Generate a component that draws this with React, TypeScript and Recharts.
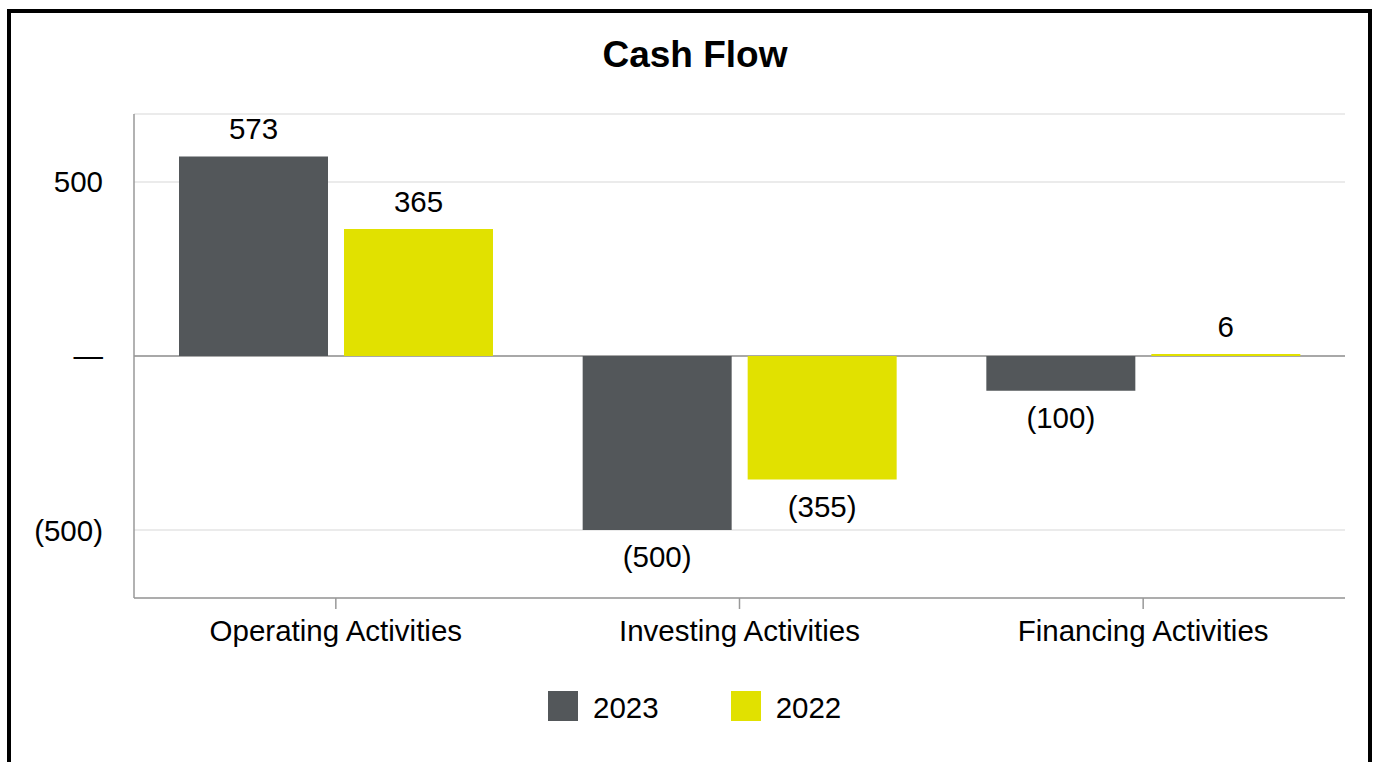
import { BarChart, Bar, XAxis, YAxis, CartesianGrid, LabelList } from 'recharts'

const categories = ['Operating Activities', 'Investing Activities', 'Financing Activities']
const cf2023 = [573, -500, -100]
const cf2022 = [365, -355, 6]
const yTicks = [-500, 0, 500]

const DARK = '#53575A'
const YELLOW = '#E1E100'
const FONT = '"Liberation Sans", Arial, sans-serif'

const data = categories.map((name, i) => ({ name, y2023: cf2023[i], y2022: cf2022[i] }))

const fmt = (v: number) => (v === 0 ? '—' : v < 0 ? `(${Math.abs(v)})` : String(v))

function BarValue(props: any) {
    const vb = props.viewBox ?? props
    const { x, y, width, height } = vb
    const v = Number(props.value)
    const top = Math.min(y, y + height)
    const bottom = Math.max(y, y + height)
    const ty = v < 0 ? bottom + 37 : top - 17
    return (
        <text x={x + width / 2} y={ty} textAnchor="middle" fill="#000" fontSize={29.5} fontFamily={FONT}>
            {v < 0 ? `(${Math.abs(v)})` : String(v)}
        </text>
    )
}

function GridLine(props: any) {
    const { x1, x2, y1, y2, index } = props
    const zero = index === 1
    return (
        <line
            key={`grid-${index}`}
            x1={x1}
            x2={x2}
            y1={y1}
            y2={y2}
            stroke={zero ? '#a8a8a8' : '#e4e4e4'}
            strokeWidth={zero ? 2 : 1.5}
        />
    )
}

const legendItems = [
    { label: '2023', color: DARK },
    { label: '2022', color: YELLOW },
]

export default function App() {
    return (
        <div
            style={{
                position: 'fixed',
                left: 7,
                top: 9,
                width: 1365,
                height: 800,
                border: '4px solid #000',
                boxSizing: 'border-box',
                background: '#fff',
                fontFamily: FONT,
            }}
        >
            <div
                style={{
                    position: 'absolute',
                    left: 0,
                    top: 23,
                    width: 1368,
                    textAlign: 'center',
                    fontSize: 37,
                    lineHeight: '37px',
                    fontWeight: 700,
                    color: '#000',
                }}
            >
                Cash Flow
            </div>

            <div style={{ position: 'absolute', left: 0, top: 0 }}>
                <BarChart
                    width={1357}
                    height={760}
                    data={data}
                    margin={{ top: 101, right: 23, left: 0, bottom: 115 }}
                    barCategoryGap={45}
                    barGap={16}
                >
                    <CartesianGrid vertical={false} horizontal={GridLine} />
                    <XAxis
                        dataKey="name"
                        height={60}
                        axisLine={{ stroke: '#999', strokeWidth: 1.5 }}
                        tickLine={{ stroke: '#999', strokeWidth: 1.5 }}
                        tickSize={11}
                        tickMargin={11}
                        tick={{ fill: '#000', fontSize: 29.5, fontFamily: FONT }}
                    />
                    <YAxis
                        width={123}
                        domain={[-695, 695]}
                        ticks={yTicks}
                        tickFormatter={fmt}
                        axisLine={{ stroke: '#999', strokeWidth: 1.5 }}
                        tickLine={false}
                        tickSize={0}
                        tickMargin={31}
                        tick={{ fill: '#000', fontSize: 29.5, fontFamily: FONT }}
                    />
                    <Bar dataKey="y2023" fill={DARK} isAnimationActive={false}>
                        <LabelList dataKey="y2023" content={BarValue} />
                    </Bar>
                    <Bar dataKey="y2022" fill={YELLOW} isAnimationActive={false}>
                        <LabelList dataKey="y2022" content={BarValue} />
                    </Bar>
                </BarChart>
            </div>

            <div style={{ position: 'absolute', left: 537, top: 678, display: 'flex', alignItems: 'flex-start' }}>
                {legendItems.map((item) => (
                    <div key={item.label} style={{ display: 'flex', alignItems: 'flex-start', marginRight: 72 }}>
                        <div style={{ width: 30, height: 30, background: item.color, marginRight: 15 }} />
                        <span style={{ fontSize: 29.5, lineHeight: '30px', paddingTop: 2, color: '#000' }}>{item.label}</span>
                    </div>
                ))}
            </div>
        </div>
    )
}
